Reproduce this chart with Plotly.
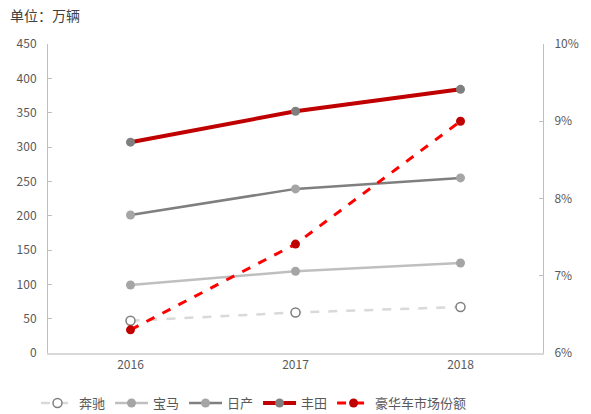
import plotly.graph_objects as go

years = ["2016", "2017", "2018"]
benz = [47, 59, 67]
bmw = [99, 119, 131]
nissan = [201, 239, 255]
toyota = [307, 352, 384]
share = [6.30, 7.41, 9.00]

left_ticks = [0, 50, 100, 150, 200, 250, 300, 350, 400, 450]
right_ticks = [6, 7, 8, 9, 10]
right_labels = ["6%", "7%", "8%", "9%", "10%"]

font_family = "Noto Sans CJK SC, Noto Sans, sans-serif"

fig = go.Figure()
fig.add_trace(go.Scatter(
    x=years, y=benz, name="奔驰", mode="lines+markers",
    line=dict(color="#D9D9D9", width=2.5, dash="dash"),
    marker=dict(symbol="circle", size=9, color="white", line=dict(color="#7F7F7F", width=1.5)),
))
fig.add_trace(go.Scatter(
    x=years, y=bmw, name="宝马", mode="lines+markers",
    line=dict(color="#BFBFBF", width=2.5),
    marker=dict(symbol="circle", size=9, color="#A5A5A5"),
))
fig.add_trace(go.Scatter(
    x=years, y=nissan, name="日产", mode="lines+markers",
    line=dict(color="#7F7F7F", width=2.5),
    marker=dict(symbol="circle", size=9, color="#A5A5A5"),
))
fig.add_trace(go.Scatter(
    x=years, y=toyota, name="丰田", mode="lines+markers",
    line=dict(color="#C00000", width=4),
    marker=dict(symbol="circle", size=9, color="#7F7F7F"),
))
fig.add_trace(go.Scatter(
    x=years, y=share, name="豪华车市场份额", mode="lines+markers", yaxis="y2",
    line=dict(color="#FF0000", width=3, dash="dash"),
    marker=dict(symbol="circle", size=9, color="#C00000"),
))

fig.update_layout(
    width=591, height=414,
    margin=dict(l=48, r=46, t=44, b=61),
    paper_bgcolor="white", plot_bgcolor="white",
    font=dict(family=font_family, size=12, color="#595959"),
    title=dict(text="单位：万辆", x=10/591, xanchor="left", y=1-16/414, yanchor="middle",
               font=dict(size=14, color="#404040", family=font_family)),
    xaxis=dict(type="category", range=[-0.5, 2.5], showgrid=False, zeroline=False,
               showline=True, linecolor="#D9D9D9", linewidth=1.5, ticks="",
               tickfont=dict(size=12, color="#595959")),
    yaxis=dict(range=[0, 450], tickvals=left_ticks, showgrid=False, zeroline=False,
               showline=True, linecolor="#BFBFBF", linewidth=1, ticks="inside", ticklen=4,
               tickcolor="#BFBFBF", ticklabelstandoff=8, tickfont=dict(size=12, color="#595959")),
    yaxis2=dict(range=[6, 10], tickvals=right_ticks, ticktext=right_labels, overlaying="y",
                side="right", showgrid=False, zeroline=False, showline=True, linecolor="#BFBFBF",
                linewidth=1, ticks="inside", ticklen=4, tickcolor="#BFBFBF",
                ticklabelstandoff=8, tickfont=dict(size=12, color="#595959")),
    legend=dict(orientation="h", x=36/591, xanchor="left", xref="container",
                y=1-403/414, yanchor="middle", yref="container",
                font=dict(size=13, color="#595959"), itemwidth=33, tracegroupgap=0),
    showlegend=True,
)

fig.write_html("out.html")
